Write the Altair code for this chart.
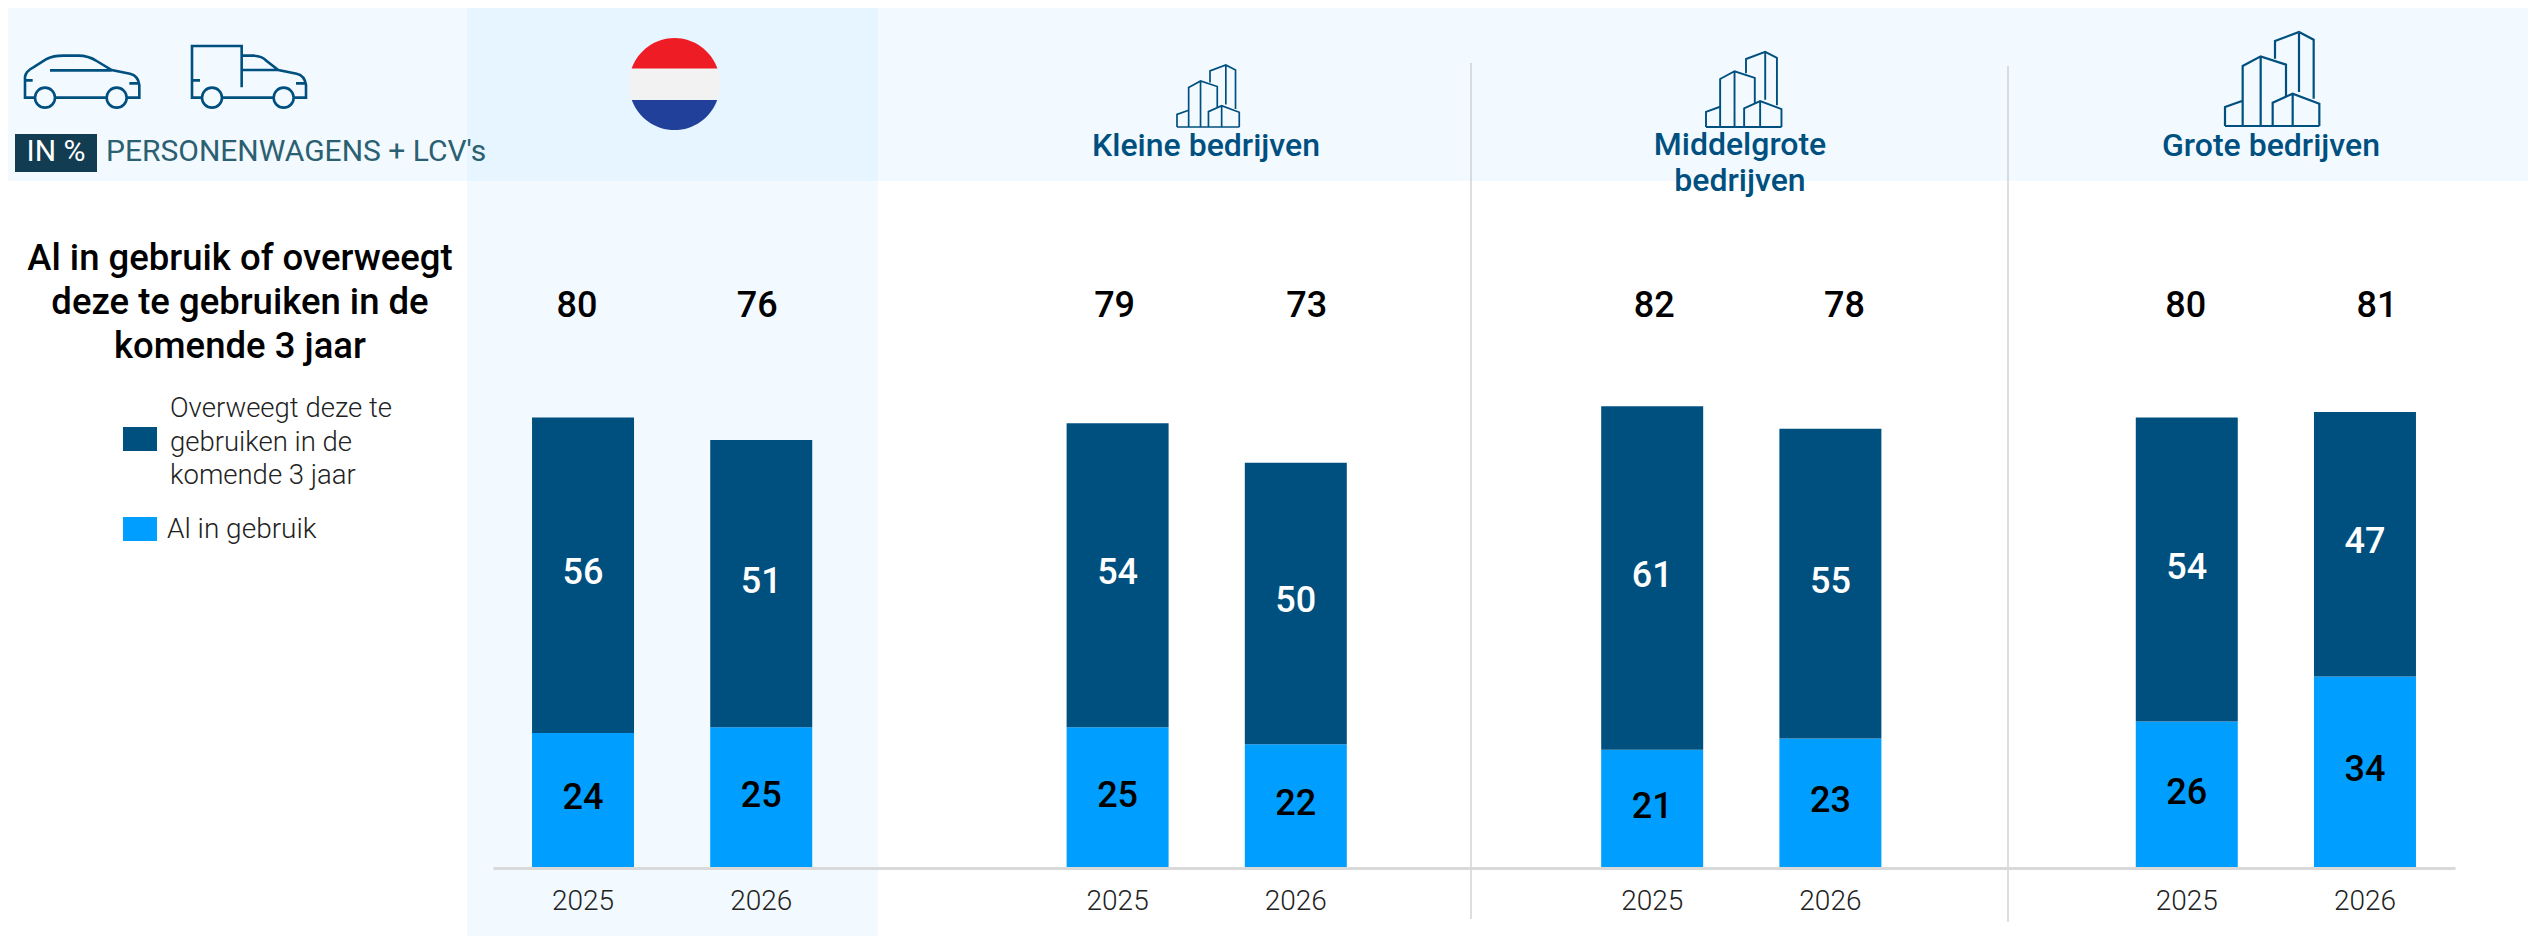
import altair as alt
import pandas as pd

# ---------- data ----------
GROUPS = ["Nederland", "Kleine bedrijven", "Middelgrote bedrijven", "Grote bedrijven"]
YEARS = ["2025", "2026"]
AL_IN_GEBRUIK = [24, 25, 25, 22, 21, 23, 26, 34]
OVERWEEGT = [56, 51, 54, 50, 61, 55, 54, 47]
TOTALS = [80, 76, 79, 73, 82, 78, 80, 81]
SERIES = ["Al in gebruik", "Overweegt deze te gebruiken in de komende 3 jaar"]

# ---------- style ----------
FONT = "Roboto"
DARK = "#00507f"
BRIGHT = "#009fff"
PALE = "#f2f9ff"
PALER = "#e6f5ff"
W, H = 2520, 928
TOTAL_DX = [-6, -4, -3, 11, 2, 14, -1, 12]


def X(px):
    return alt.value(px - 8)


def Y(py):
    return alt.value(py - 8)


# ---------- tables ----------
cats = []
domain = []
for gi, g in enumerate(GROUPS):
    for y in YEARS:
        cats.append(f"{g} {y}")
        domain.append(f"{g} {y}")
    if gi < len(GROUPS) - 1:
        domain.append("gap" + str(gi))

rows = []
for i, c in enumerate(cats):
    rows.append({"cat": c, "serie": SERIES[0], "rank": 0, "value": AL_IN_GEBRUIK[i]})
    rows.append({"cat": c, "serie": SERIES[1], "rank": 1, "value": OVERWEEGT[i]})
df = pd.DataFrame(rows)

x_scale = alt.Scale(domain=domain, range=[485, 2447], paddingInner=0.4276, paddingOuter=0.219)
y_scale = alt.Scale(domain=[0, 100], range=[860, 297])
color_scale = alt.Scale(domain=SERIES, range=[BRIGHT, DARK])
one = pd.DataFrame({"k": [0]})


def rect(x0, x1, y0, y1, color, **kw):
    return alt.Chart(one).mark_rect(color=color, **kw).encode(
        x=X(x0), x2=X(x1), y=Y(y0), y2=Y(y1)
    )


def label(x, y, text, size, color="#000000", weight=400, align="center", line=None):
    kw = {"lineHeight": line} if line else {}
    return alt.Chart(one).mark_text(
        text=text, font=FONT, fontSize=size, color=color, fontWeight=weight,
        align=align, baseline="middle", **kw
    ).encode(x=X(x), y=Y(y))


def icon(x, y, path, size, sw, color=DARK, fill=None):
    kw = {"fill": fill, "filled": True} if fill else {"filled": False, "stroke": color, "strokeWidth": sw}
    return alt.Chart(one).mark_point(shape=path, size=size, opacity=1, **kw).encode(x=X(x), y=Y(y))


# ---------- icons (drawn as scaled symbols) ----------
def wheel(cx, cy, r=30):
    return f"M{cx-r},{cy} A{r},{r} 0 1,0 {cx+r},{cy} A{r},{r} 0 1,0 {cx-r},{cy} "


CAR = (
    "M75,188 L45,188 L45,125 Q48,108 70,97 L110,72 Q130,62 160,62 L205,62 Q235,62 260,78 L305,105 "
    "L360,116 Q385,122 388,150 L388,188 L352,188 M135,188 L290,188 M120,106 L305,106 "
    "M45,136 L68,136 M358,145 L388,145 " + wheel(105, 188) + wheel(320, 188)
)
VAN = (
    "M575,188 L546,188 L546,33 L695,33 L695,157 M697,62 L730,62 Q755,62 770,78 L805,105 L860,116 "
    "Q885,122 888,150 L888,188 L852,188 M637,188 L790,188 M697,105 L805,105 M546,136 L570,136 "
    "M858,145 L888,145 " + wheel(606, 188) + wheel(821, 188)
)
BUILDING = (
    "M0,0 L283,0 M0,0 L0,-57 L53,-76 M53,0 L53,-180 L107,-209 L183,-184 L183,-87 M107,-209 L107,0 "
    "M150,-202 L150,-255 L222,-282 L266,-259 L266,-82 M222,-282 L222,-102 "
    "M143,0 L143,-70 L203,-97 L283,-67 L283,0 M203,-97 L203,0"
)
FLAG_R = "M-42.9,-15.4 A45.5,46 0 0,1 42.9,-15.4 Z"
FLAG_W = "M-42.9,-15.4 L42.9,-15.4 A45.5,46 0 0,1 42.7,16 L-42.7,16 A45.5,46 0 0,1 -42.9,-15.4 Z"
FLAG_B = "M-42.7,16 L42.7,16 A45.5,46 0 0,1 -42.7,16 Z"

s3 = lambda s: (2 * s / 3) ** 2

decor = [
    rect(0, 2536, 8, 181, PALE),
    rect(467, 878, 8, 181, PALER),
    rect(467, 878, 181, 944, PALE),
    icon(10, 35, CAR, s3(1), 2.6),
    icon(10, 35, VAN, s3(1), 2.6),
    icon(674.5, 84, FLAG_W, 4, 0, fill="#f2f2f2"),
    icon(674.5, 84, FLAG_R, 4, 0, fill="#ee1c25"),
    icon(674.5, 84, FLAG_B, 4, 0, fill="#21409a"),
    icon(1177, 127, BUILDING, s3(0.66), 1.7),
    icon(1706, 127, BUILDING, s3(0.8), 1.9),
    icon(2225, 126, BUILDING, s3(1), 2.2),
    rect(15, 97, 134, 172, "#123c52"),
    label(56, 152, "IN %", 30, color="#ffffff"),
    label(106, 152, "PERSONENWAGENS + LCV's", 30, color="#2a6070", align="left"),
    label(1206, 145.5, "Kleine bedrijven", 32, color=DARK, weight=500),
    label(1740, 144.5, ["Middelgrote", "bedrijven"], 32, color=DARK, weight=500, line=36),
    label(2271, 145.5, "Grote bedrijven", 32, color=DARK, weight=500),
    label(240, 259, ["Al in gebruik of overweegt", "deze te gebruiken in de", "komende 3 jaar"], 36.5,
          weight=500, line=44),
    rect(123, 157, 427, 451, DARK),
    rect(123, 157, 517, 541, BRIGHT),
    label(170, 409, ["Overweegt deze te", "gebruiken in de", "komende 3 jaar"], 27.5, color="#222222",
          weight=300, align="left", line=33.5),
    label(167, 530, "Al in gebruik", 28, color="#222222", weight=300, align="left"),
]

sep = [
    alt.Chart(one).mark_rule(color="#bdbdbd", strokeWidth=1).encode(x=X(1471), y=Y(63), y2=Y(919)),
    alt.Chart(one).mark_rule(color="#bdbdbd", strokeWidth=1).encode(x=X(2008), y=Y(66), y2=Y(922)),
]

# ---------- bars ----------
base = (
    alt.Chart(df)
    .transform_stack(stack="value", groupby=["cat"], as_=["y0", "y1"],
                     sort=[alt.SortField("rank", order="ascending")])
    .transform_calculate(mid="(datum.y0 + datum.y1) / 2")
)

x_enc = alt.X(
    "cat:N",
    scale=x_scale,
    sort=None,
    title=None,
    axis=alt.Axis(
        values=cats,
        labelExpr="slice(datum.label, -4)",
        labelAngle=0,
        labelFont=FONT,
        labelFontSize=28,
        labelFontWeight=300,
        labelColor="#222222",
        labelPadding=19,
        ticks=False,
        grid=False,
        domainColor="#d9d9d9",
        domainWidth=3,
        offset=-(H - 860),
        labelOverlap=False,
        zindex=1,
    ),
)
bars = base.mark_bar(cornerRadius=0).encode(
    x=x_enc,
    y=alt.Y("y0:Q", scale=y_scale, axis=None),
    y2="y1:Q",
    color=alt.Color("serie:N", scale=color_scale, legend=None),
)


def seg_labels(rank, color):
    return base.transform_filter(f"datum.rank == {rank}").mark_text(
        font=FONT, fontSize=36, fontWeight=500, color=color, dy=-2, baseline="middle"
    ).encode(
        x=alt.X("cat:N", scale=x_scale, sort=None),
        y=alt.Y("mid:Q", scale=y_scale, axis=None),
        text=alt.Text("value:Q"),
    )


totals = []
for c, t, d in zip(cats, TOTALS, TOTAL_DX):
    totals.append(
        alt.Chart(pd.DataFrame({"cat": [c], "total": [t]}))
        .mark_text(font=FONT, fontSize=36, fontWeight=500, color="#000000", dx=d, baseline="middle")
        .encode(x=alt.X("cat:N", scale=x_scale, sort=None), y=Y(305.5), text="total:Q")
    )

chart = (
    alt.layer(*decor, bars, *sep, seg_labels(0, "#000000"), seg_labels(1, "#ffffff"), *totals)
    .properties(width=W, height=H, padding=0, autosize=alt.AutoSizeParams(type="none"))
    .configure_view(stroke=None)
)

chart.save("out.html", embed_options={"renderer": "svg", "actions": False})
